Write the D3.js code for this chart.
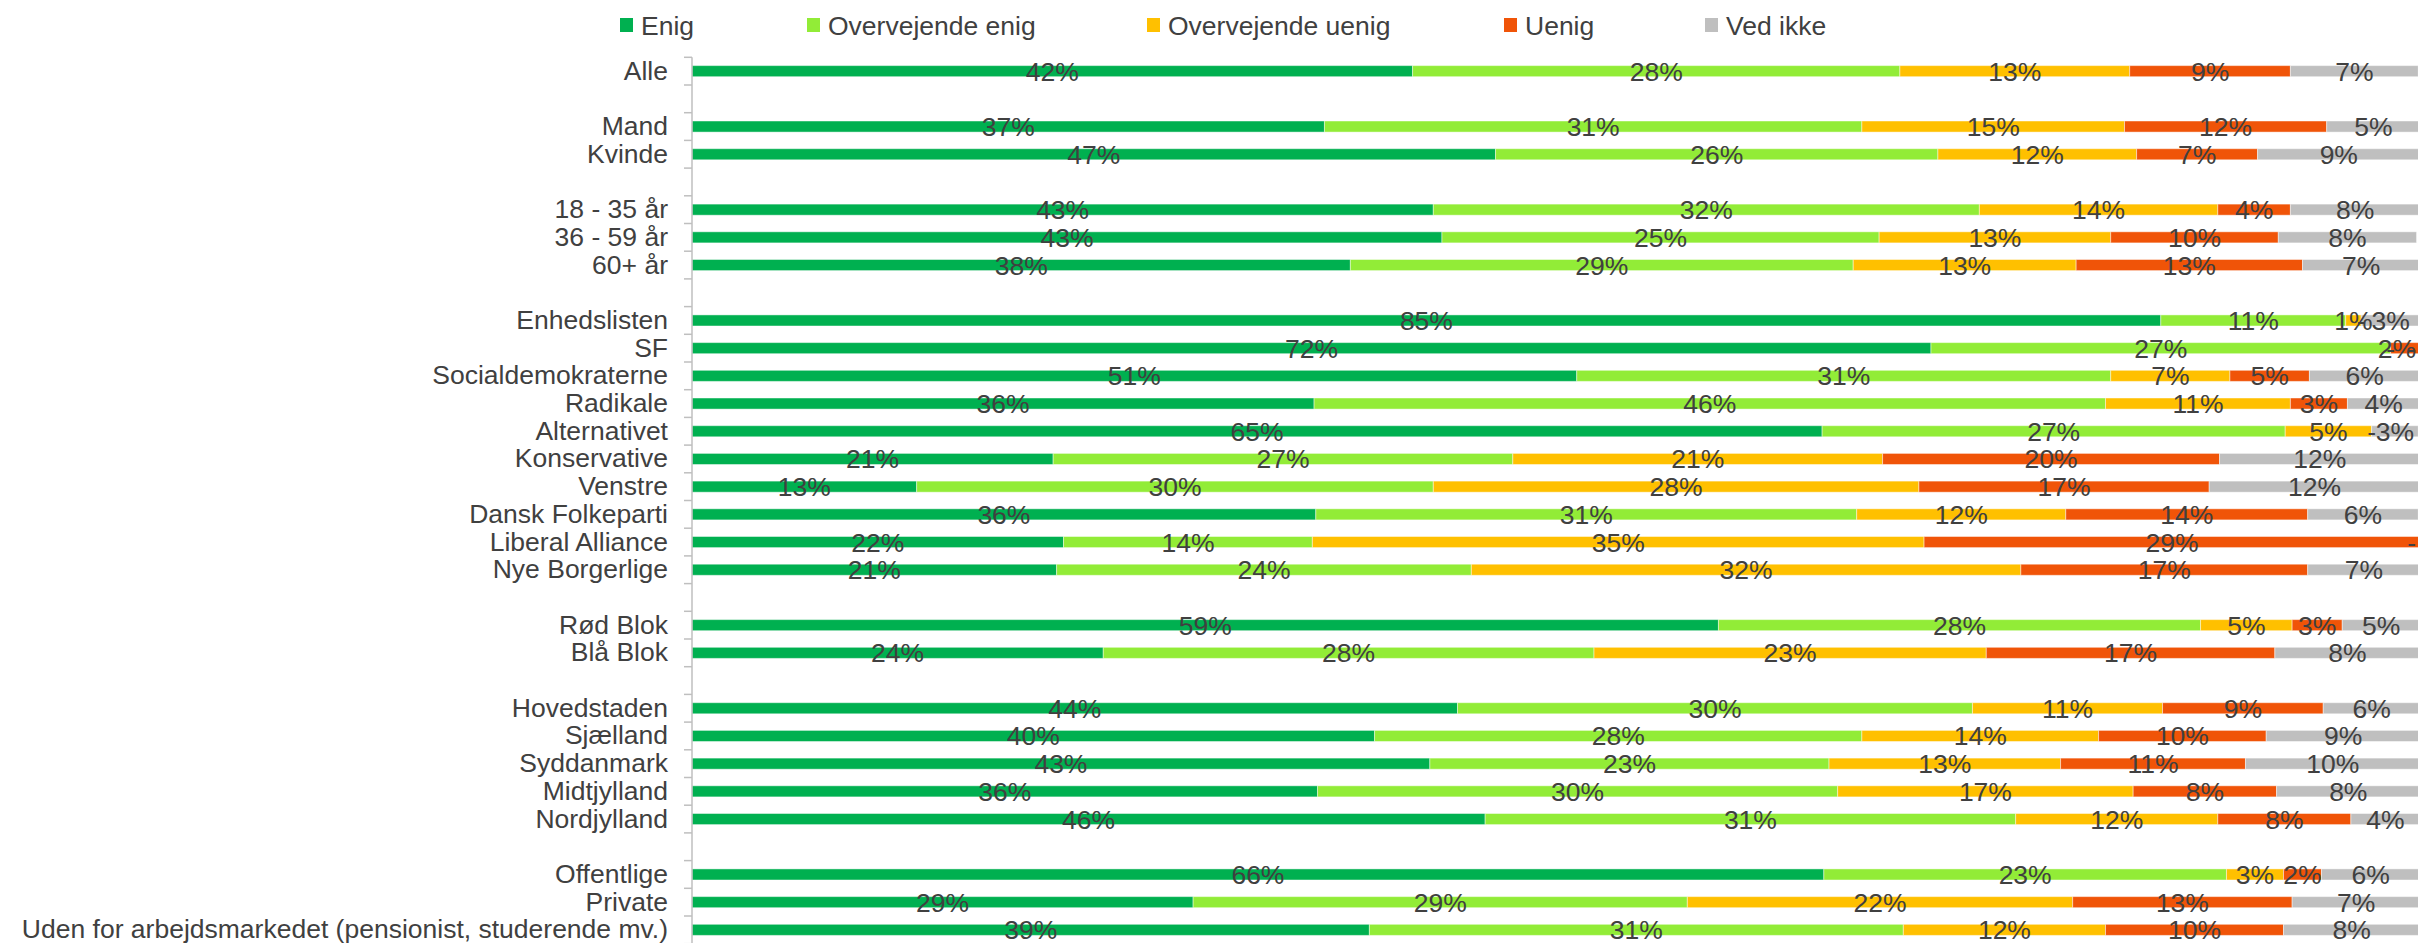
<!DOCTYPE html>
<html>
<head>
<meta charset="utf-8">
<script src="https://cdn.jsdelivr.net/npm/d3@7"></script>
<style>
  html, body { margin: 0; padding: 0; background: #ffffff; }
  svg { display: block; }
  text { font-family: "Liberation Sans", Arial, sans-serif; fill: #404040; }
</style>
</head>
<body>
<svg id="chart" width="2418" height="943"></svg>
<script>
// ---- data (empty string = spacer row) ----
const categories = [
  "Alle", "",
  "Mand", "Kvinde", "",
  "18 - 35 år", "36 - 59 år", "60+ år", "",
  "Enhedslisten", "SF", "Socialdemokraterne", "Radikale", "Alternativet",
  "Konservative", "Venstre", "Dansk Folkeparti", "Liberal Alliance", "Nye Borgerlige", "",
  "Rød Blok", "Blå Blok", "",
  "Hovedstaden", "Sjælland", "Syddanmark", "Midtjylland", "Nordjylland", "",
  "Offentlige", "Private", "Uden for arbejdsmarkedet (pensionist, studerende mv.)"
];
const seriesNames = ["Enig", "Overvejende enig", "Overvejende uenig", "Uenig", "Ved ikke"];
const seriesColors = ["#00B050", "#92EC37", "#FFC000", "#F05408", "#BFBFBF"];

const enig             = [41.7, null, 36.6, 46.5, null, 42.9, 43.4, 38.1, null, 85.0, 71.7, 51.2, 36.0, 65.4, 20.9, 13.0, 36.1, 21.5, 21.1, null, 59.4, 23.8, null, 44.3, 39.5, 42.7, 36.2, 45.9, null, 65.5, 29.0, 39.2];
const overvejendeEnig  = [28.2, null, 31.1, 25.6, null, 31.6, 25.3, 29.1, null, 10.7, 26.6, 30.9, 45.8, 26.8, 26.6, 29.9, 31.3, 14.4, 24.0, null, 27.9, 28.4, null, 29.8, 28.2, 23.1, 30.1, 30.7, null, 23.3, 28.6, 30.9];
const overvejendeUenig = [13.3, null, 15.2, 11.5, null, 13.8, 13.4, 12.9, null,  0.9,  0.0,  6.9, 10.7,  5.0, 21.4, 28.1, 12.1, 35.4, 31.8, null,  5.3, 22.7, null, 11.0, 13.7, 13.4, 17.1, 11.7, null,  3.3, 22.3, 11.7];
const uenig            = [ 9.3, null, 11.7,  7.0, null,  4.2,  9.7, 13.1, null,  0.0,  1.7,  4.6,  3.3,  0.0, 19.5, 16.8, 14.0, 28.7, 16.6, null,  2.9, 16.7, null,  9.3,  9.7, 10.7,  8.3,  7.7, null,  2.2, 12.7, 10.3];
const vedIkke          = [ 7.4, null,  5.4,  9.4, null,  7.5,  8.0,  6.8, null,  3.4,  0.0,  6.4,  4.2,  2.7, 11.6, 12.2,  6.4,  0.0,  6.5, null,  4.5,  8.4, null,  5.6,  8.9, 10.1,  8.3,  4.0, null,  5.7,  7.4,  7.9];
const xTicks = [0, 100];

// ---- build table ----
const seriesArrays = [enig, overvejendeEnig, overvejendeUenig, uenig, vedIkke];
const slotKeys = categories.map((c, i) => "k" + i);
const rows = categories.map((c, i) => {
  const r = { key: slotKeys[i], name: c };
  seriesNames.forEach((s, j) => { r[s] = seriesArrays[j][i]; });
  return r;
}).filter(r => r.name !== "");

const W = 2418, H = 943;
const svg = d3.select("#chart");

const x = d3.scaleLinear().domain(d3.extent(xTicks)).range([692, 2420]);
const y = d3.scaleBand().domain(slotKeys).range([57.3, 943.7]).paddingInner(0.6).paddingOuter(0.3);
const color = d3.scaleOrdinal().domain(seriesNames).range(seriesColors);

const stacked = d3.stack().keys(seriesNames)(rows);

// ---- bars ----
const gBars = svg.append("g");
stacked.forEach(layer => {
  gBars.append("g")
    .attr("fill", color(layer.key))
    .selectAll("rect")
    .data(layer)
    .join("rect")
      .attr("x", d => x(d[0]))
      .attr("y", d => y(d.data.key))
      .attr("width", d => Math.max(0, x(d[1]) - x(d[0])))
      .attr("height", y.bandwidth())
      .attr("stroke", "rgba(255,255,255,0.45)")
      .attr("stroke-width", 1);
});

// ---- value labels ----
const FS = 26.5;
const gLab = svg.append("g").attr("font-size", FS).attr("text-anchor", "middle");
stacked.forEach(layer => {
  gLab.append("g")
    .selectAll("text")
    .data(layer)
    .join("text")
      .text(d => {
        const v = d.data[layer.key];
        return v === 0 ? "-" : Math.round(v) + "%";
      })
      .attr("x", function(d) {
        const cx = (x(d[0]) + x(d[1])) / 2;
        const w = this.getComputedTextLength();
        return Math.min(cx, W - 2 - w / 2);
      })
      .attr("y", d => y(d.data.key) + y.bandwidth() / 2)
      .attr("dy", "0.36em");
});

// ---- y axis ----
const axisX = x(0);
const step = y.step();
const y0 = y.range()[0];
const gAxis = svg.append("g").attr("transform", `translate(${axisX},0)`);
gAxis.call(d3.axisLeft(y)
    .tickSize(0)
    .tickPadding(24)
    .tickFormat(k => categories[slotKeys.indexOf(k)]))
  .call(g => g.select(".domain").remove())
  .call(g => g.selectAll("text").attr("font-size", FS).attr("fill", "#404040")
        .attr("font-family", '"Liberation Sans", Arial, sans-serif'));

gAxis.append("line")
  .attr("x1", 0).attr("x2", 0)
  .attr("y1", y0).attr("y2", H + 5)
  .attr("stroke", "#BFBFBF").attr("stroke-width", 1.5);

const boundaries = d3.range(slotKeys.length + 1).map(i => y0 + i * step);
gAxis.append("g").selectAll("line")
  .data(boundaries)
  .join("line")
    .attr("x1", -8).attr("x2", 0)
    .attr("y1", d => d).attr("y2", d => d)
    .attr("stroke", "#BFBFBF").attr("stroke-width", 1.5);

// ---- legend ----
const legendX = [620, 807, 1147, 1504, 1705];
const gLeg = svg.append("g");
seriesNames.forEach((s, i) => {
  const g = gLeg.append("g").attr("transform", `translate(${legendX[i]},18)`);
  g.append("rect").attr("width", 13).attr("height", 14).attr("fill", color(s));
  g.append("text").attr("x", 21).attr("y", 7).attr("dy", "0.36em")
    .attr("font-size", FS).text(s);
});
</script>
</body>
</html>
